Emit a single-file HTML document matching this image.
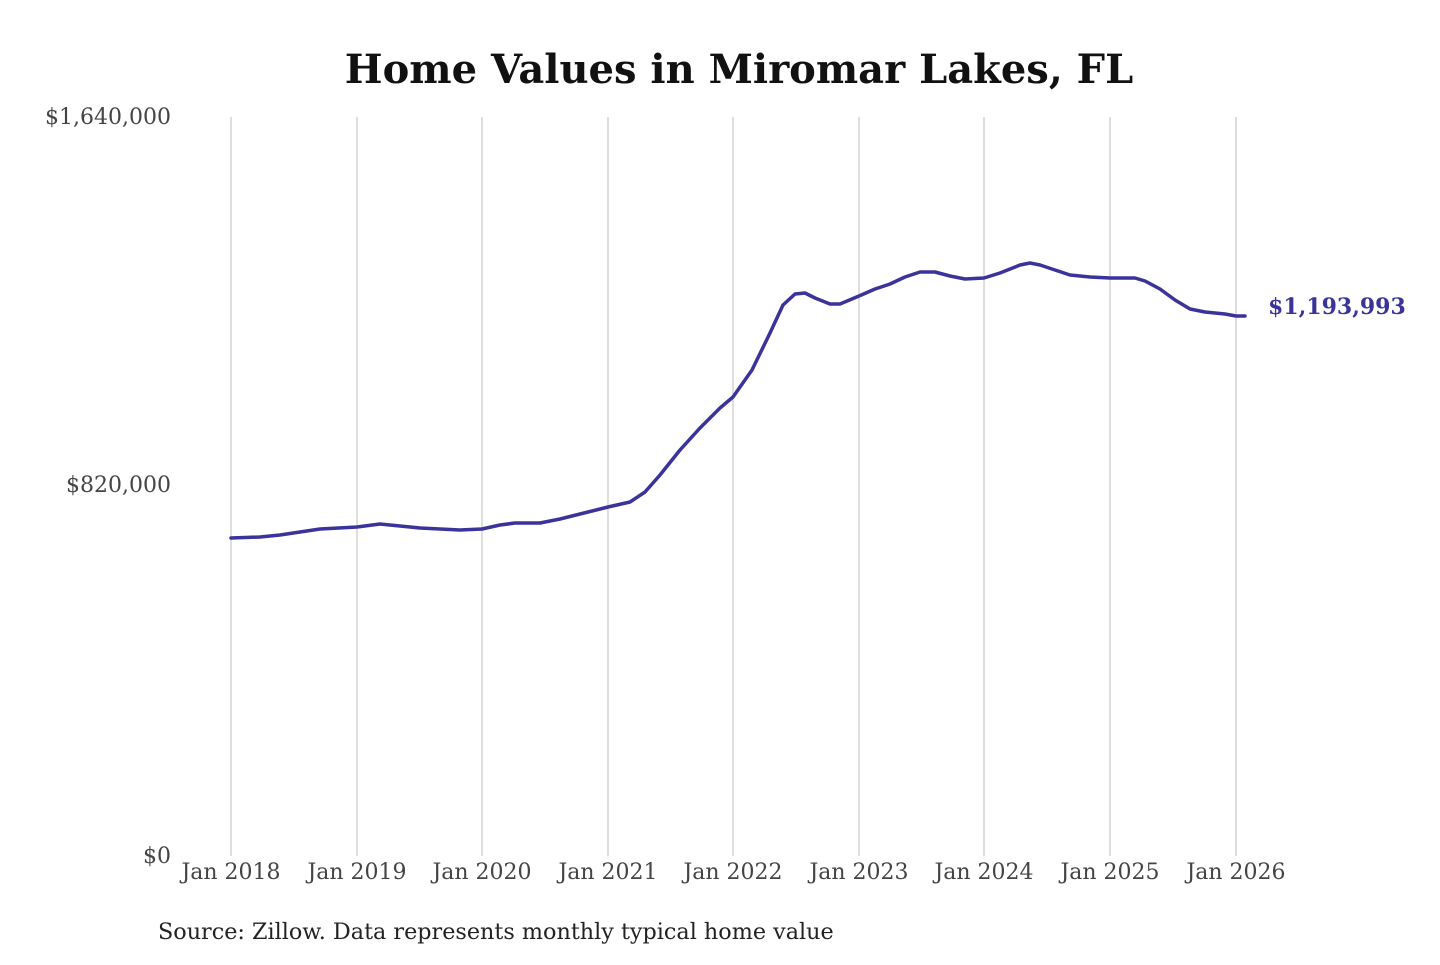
<!DOCTYPE html>
<html><head><meta charset="utf-8"><style>
html,body{margin:0;padding:0;background:#fff;}
</style></head><body>
<svg width="1440" height="960" viewBox="0 0 1440 960" xmlns="http://www.w3.org/2000/svg" font-family="'DejaVu Serif','Liberation Serif',serif">
<rect width="1440" height="960" fill="#fff"/>
<text x="739" y="83" text-anchor="middle" font-size="40" font-weight="bold" fill="#111">Home Values in Miromar Lakes, FL</text>
<g stroke="#c8c8c8" stroke-width="1.2">
<line x1="231" y1="117" x2="231" y2="856"/><line x1="357" y1="117" x2="357" y2="856"/>
<line x1="482" y1="117" x2="482" y2="856"/><line x1="608" y1="117" x2="608" y2="856"/>
<line x1="733" y1="117" x2="733" y2="856"/><line x1="859" y1="117" x2="859" y2="856"/>
<line x1="984" y1="117" x2="984" y2="856"/><line x1="1110" y1="117" x2="1110" y2="856"/>
<line x1="1236" y1="117" x2="1236" y2="856"/>
</g>
<g font-size="22" fill="#444" text-anchor="end">
<text x="171" y="124">$1,640,000</text>
<text x="171" y="492">$820,000</text>
<text x="171" y="863">$0</text>
</g>
<g font-size="22" fill="#444" text-anchor="middle">
<text x="231" y="879">Jan 2018</text><text x="357" y="879">Jan 2019</text>
<text x="482" y="879">Jan 2020</text><text x="608" y="879">Jan 2021</text>
<text x="733" y="879">Jan 2022</text><text x="859" y="879">Jan 2023</text>
<text x="984" y="879">Jan 2024</text><text x="1110" y="879">Jan 2025</text>
<text x="1236" y="879">Jan 2026</text>
</g>
<polyline fill="none" stroke="#3a339a" stroke-width="3.5" stroke-linejoin="round" stroke-linecap="round"
points="231,538 260,537 280,535 300,532 320,529 357,527 380,524 400,526 420,528 460,530 482,529 500,525 515,523 540,523 560,519 580,514 608,507 630,502 645,492 660,475 680,450 700,428 720,408 733,397 752,370 770,333 783,305 795,294 805,293 815,298 830,304 840,304 859,296 875,289 890,284 905,277 920,272 935,272 950,276 965,279 984,278 1000,273 1020,265 1030,263 1040,265 1055,270 1070,275 1090,277 1110,278 1135,278 1145,281 1160,289 1175,300 1190,309 1205,312 1225,314 1236,316 1245,316"/>
<text x="1268" y="314" font-size="22" font-weight="bold" fill="#3a339a">$1,193,993</text>
<text x="158" y="939" font-size="22.3" fill="#222">Source: Zillow. Data represents monthly typical home value</text>
</svg>
</body></html>
